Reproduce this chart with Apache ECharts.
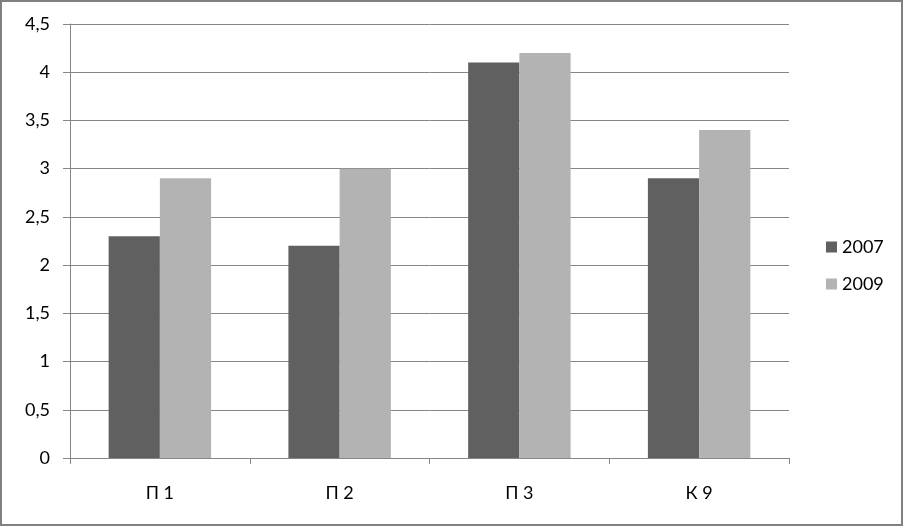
<!DOCTYPE html>
<html>
<head>
<meta charset="utf-8">
<script src="https://cdn.jsdelivr.net/npm/echarts@6/dist/echarts.min.js"></script>
<style>
html,body{margin:0;padding:0;background:#fff;}
#chart{width:903px;height:526px;}
</style>
</head>
<body>
<div id="chart"></div>
<script>
var categories = ['П 1', 'П 2', 'П 3', 'К 9'];
var series2007 = [2.3, 2.2, 4.1, 2.9];
var series2009 = [2.9, 3.0, 4.2, 3.4];
var seriesNames = ['2007', '2009'];

var chart = echarts.init(document.getElementById('chart'));
var fontFam = 'Lato, "Open Sans", sans-serif';
chart.setOption({
  animation: false,
  backgroundColor: '#ffffff',
  graphic: [{
    type: 'rect',
    shape: {x: 1, y: 1, width: 901, height: 524},
    style: {fill: 'none', stroke: '#808080', lineWidth: 2},
    silent: true
  }],
  grid: {left: 70, right: 114, top: 24, bottom: 68},
  legend: {
    orient: 'vertical',
    left: 821,
    top: 233,
    itemWidth: 11,
    itemHeight: 11,
    itemGap: 19,
    icon: 'rect',
    textStyle: {fontFamily: fontFam, fontSize: 18, color: '#000'},
    data: seriesNames
  },
  xAxis: {
    type: 'category',
    data: categories,
    axisLine: {lineStyle: {color: '#868686', width: 1}},
    axisTick: {show: true, length: 6, lineStyle: {color: '#868686'}},
    axisLabel: {margin: 26, fontFamily: fontFam, fontSize: 18, color: '#000'}
  },
  yAxis: {
    type: 'value',
    min: 0,
    max: 4.5,
    interval: 0.5,
    axisLine: {show: true, lineStyle: {color: '#868686', width: 1}},
    axisTick: {show: true, length: 7, lineStyle: {color: '#868686'}},
    splitLine: {lineStyle: {color: '#868686', width: 1}},
    axisLabel: {
      margin: 20,
      fontFamily: fontFam,
      fontSize: 18,
      color: '#000',
      formatter: function (v) { return String(v).replace('.', ','); }
    }
  },
  series: [
    {name: seriesNames[0], type: 'bar', data: series2007, barGap: '0%', barCategoryGap: '43%',
     itemStyle: {color: '#606060'}},
    {name: seriesNames[1], type: 'bar', data: series2009, barGap: '0%', barCategoryGap: '43%',
     itemStyle: {color: '#b3b3b3'}}
  ]
});
</script>
</body>
</html>
